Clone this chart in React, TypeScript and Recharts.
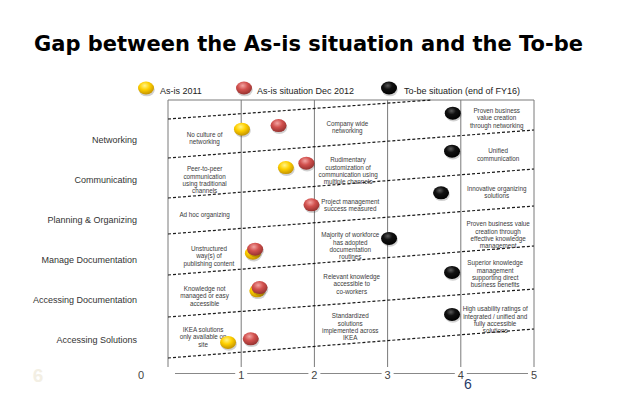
import { ReferenceLine, Scatter, ScatterChart, XAxis, YAxis } from "recharts"

// rows from bottom (0) to top (5)
const rowNames = [
  "Accessing Solutions",
  "Accessing Documentation",
  "Manage Documentation",
  "Planning & Organizing",
  "Communicating",
  "Networking",
]
const rowTicks = [0, 1, 2, 3, 4, 5]
const levelTicks = [0, 1, 2, 3, 4, 5]

// maturity level (x) per row (y)
const asIs2011 = [
  { x: 1.01, y: 5.27 },
  { x: 1.61, y: 4.31 },
  { x: 1.16, y: 2.17 },
  { x: 1.22, y: 1.23 },
  { x: 0.82, y: -0.06 },
]
const asIsDec2012 = [
  { x: 1.51, y: 5.36 },
  { x: 1.89, y: 4.42 },
  { x: 1.96, y: 3.38 },
  { x: 1.19, y: 2.27 },
  { x: 1.25, y: 1.31 },
  { x: 1.13, y: 0.03 },
]
const toBeFY16 = [
  { x: 3.89, y: 5.67 },
  { x: 3.88, y: 4.72 },
  { x: 3.73, y: 3.68 },
  { x: 3.02, y: 2.54 },
  { x: 3.88, y: 1.69 },
  { x: 3.88, y: 0.64 },
]

// slanted row separators
const dividerLeftY = [-0.45, 0.575, 1.625, 2.65, 3.55, 4.55, 5.525]
const dividerRightY = [0.275, 1.275, 2.35, 3.35, 4.275, 5.25, 6]
const dividerEndX = [5, 5, 5, 5, 5, 5, 3.6]
const columnLines = [0, 1, 2, 3, 4, 5]

const notes = [
  { x: 0.5, y: 5.05, lines: ["No culture of", "networking"] },
  { x: 0.5, y: 4.0, lines: ["Peer-to-peer", "communication", "using traditional", "channels"] },
  { x: 0.5, y: 3.125, lines: ["Ad hoc organizing"] },
  { x: 0.56, y: 2.1, lines: ["Unstructured", "way(s) of", "publishing content"] },
  { x: 0.5, y: 1.1, lines: ["Knowledge not", "managed or easy", "accessible"] },
  { x: 0.48, y: 0.075, lines: ["IKEA solutions", "only available on", "site"] },
  { x: 2.45, y: 5.31, lines: ["Company wide", "networking"] },
  { x: 2.46, y: 4.225, lines: ["Rudimentary", "customization of", "communication using", "multiple channels"] },
  { x: 2.49, y: 3.36, lines: ["Project management", "success measured"] },
  { x: 2.49, y: 2.35, lines: ["Majority of workforce", "has adopted", "documentation", "routines"] },
  { x: 2.51, y: 1.4, lines: ["Relevant knowledge", "accessible to", "co-workers"] },
  { x: 2.49, y: 0.325, lines: ["Standardized", "solutions", "implemented across", "IKEA"] },
  { x: 4.49, y: 5.55, lines: ["Proven business", "value creation", "through networking"] },
  { x: 4.51, y: 4.63, lines: ["Unified", "communication"] },
  { x: 4.49, y: 3.7, lines: ["Innovative organizing", "solutions"] },
  { x: 4.51, y: 2.625, lines: ["Proven business value", "creation through", "effective knowledge", "management"] },
  { x: 4.47, y: 1.65, lines: ["Superior knowledge", "management", "supporting direct", "business benefits"] },
  { x: 4.47, y: 0.5, lines: ["High usability ratings of", "integrated / unified and", "fully accessible", "solutions"] },
]

const legendItems = [
  { name: "As-is 2011", grad: "ballYellow" },
  { name: "As-is situation Dec 2012", grad: "ballRed" },
  { name: "To-be situation (end of FY16)", grad: "ballBlack" },
]

const font = "'Liberation Sans', Arial, sans-serif"

const ball = (grad: string) => (props: any) => {
  const { cx, cy } = props
  if (cx == null || cy == null) return <g />
  return (
    <g>
      <ellipse cx={cx + 0.8} cy={cy + 1.8} rx={8} ry={6.5} fill="#000" opacity={0.18} />
      <ellipse cx={cx} cy={cy} rx={8} ry={6.5} fill={`url(#${grad})`} />
    </g>
  )
}

const NoteShape = (props: any) => {
  const { cx, cy, payload } = props
  if (cx == null || !payload) return <g />
  const lines: string[] = payload.lines
  const lh = 7.3
  const start = cy - ((lines.length - 1) * lh) / 2 + 2.2
  return (
    <text textAnchor="middle" fontSize={6.3} fill="#3a3a3a" fontFamily={font}>
      {lines.map((l, i) => (
        <tspan key={i} x={cx} y={start + i * lh}>
          {l}
        </tspan>
      ))}
    </text>
  )
}

const LevelTick = (props: any) => {
  const { x, y, payload } = props
  const first = payload.value === 0
  return (
    <g>
      <rect x={first ? x - 1 : x - 6} y={y - 3} width={first ? 8 : 12} height={6} fill="#fff" />
      <text x={first ? x - 27 : x} y={y + 5.5} textAnchor="middle" fontSize={11} fill="#444" fontFamily={font}>
        {payload.value}
      </text>
    </g>
  )
}

const RowTick = (props: any) => {
  const { x, y, payload } = props
  return (
    <text x={x} y={y + 3} textAnchor="end" fontSize={9} fill="#333" fontFamily={font}>
      {rowNames[payload.value] ?? ""}
    </text>
  )
}

export default function App() {
  return (
    <div style={{ position: "absolute", left: 0, top: 0, width: 638, height: 399, background: "#fff", overflow: "hidden" }}>
      <svg width={0} height={0} style={{ position: "absolute" }}>
        <defs>
          <radialGradient id="ballYellow" cx="42%" cy="32%" r="70%">
            <stop offset="0%" stopColor="#fff48a" />
            <stop offset="45%" stopColor="#ffd000" />
            <stop offset="100%" stopColor="#c08f00" />
          </radialGradient>
          <radialGradient id="ballRed" cx="42%" cy="32%" r="70%">
            <stop offset="0%" stopColor="#f2a5a3" />
            <stop offset="45%" stopColor="#d2514e" />
            <stop offset="100%" stopColor="#93302e" />
          </radialGradient>
          <radialGradient id="ballBlack" cx="42%" cy="32%" r="70%">
            <stop offset="0%" stopColor="#5a5a5a" />
            <stop offset="40%" stopColor="#111" />
            <stop offset="100%" stopColor="#000" />
          </radialGradient>
        </defs>
      </svg>

      <ScatterChart width={638} height={399} margin={{ top: 100, right: 104, bottom: 5.5, left: 0 }} style={{ fontFamily: font }}>
        <XAxis
          type="number"
          dataKey="x"
          domain={[0, 5]}
          ticks={levelTicks}
          interval={0}
          height={20}
          tickSize={0}
          tickMargin={0}
          axisLine={{ stroke: "#888" }}
          tickLine={false}
          tick={<LevelTick />}
        />
        <YAxis
          type="number"
          dataKey="y"
          domain={[-0.8375, 6]}
          ticks={rowTicks}
          interval={0}
          width={168}
          tickSize={0}
          tickMargin={31}
          axisLine={false}
          tickLine={false}
          tick={<RowTick />}
        />
        {columnLines.map((c) => (
          <ReferenceLine key={`c${c}`} segment={[{ x: c, y: -0.675 }, { x: c, y: 6 }]} stroke="#7a7a7a" strokeWidth={1} />
        ))}
        <ReferenceLine segment={[{ x: 0, y: 6 }, { x: 5, y: 6 }]} stroke="#7a7a7a" strokeWidth={1} />
        <Scatter data={notes} shape={<NoteShape />} isAnimationActive={false} />
        {dividerLeftY.map((ly, i) => (
          <ReferenceLine
            key={`d${i}`}
            segment={[
              { x: 0, y: ly },
              { x: dividerEndX[i], y: dividerRightY[i] },
            ]}
            stroke="#1a1a1a"
            strokeWidth={1.2}
            strokeDasharray="3 2"
          />
        ))}
        <Scatter name="As-is 2011" data={asIs2011} shape={ball("ballYellow")} isAnimationActive={false} />
        <Scatter name="As-is situation Dec 2012" data={asIsDec2012} shape={ball("ballRed")} isAnimationActive={false} />
        <Scatter name="To-be situation (end of FY16)" data={toBeFY16} shape={ball("ballBlack")} isAnimationActive={false} />
      </ScatterChart>

      <svg width={638} height={399} style={{ position: "absolute", left: 0, top: 0, pointerEvents: "none" }}>
        <text x={34} y={51} fontFamily="'DejaVu Sans', Verdana, sans-serif" fontWeight="bold" fontSize={21} fill="#000">
          Gap between the As-is situation and the To-be
        </text>
        {legendItems.map((it, i) => {
          const bx = [146, 244, 389][i]
          const tx = [160, 257, 404][i]
          return (
            <g key={it.name}>
              <ellipse cx={bx + 0.8} cy={89.8} rx={8} ry={6.5} fill="#000" opacity={0.18} />
              <ellipse cx={bx} cy={88} rx={8} ry={6.5} fill={`url(#${it.grad})`} />
              <text x={tx} y={94} fontSize={9} fill="#222" fontFamily={font}>
                {it.name}
              </text>
            </g>
          )
        })}
        <text x={38} y={382} textAnchor="middle" fontSize={19} fontWeight="bold" fill="#f3efe4" fontFamily={font}>
          6
        </text>
        <text x={468} y={389} textAnchor="middle" fontSize={14} fill="#1f3a68" fontFamily={font}>
          6
        </text>
      </svg>
    </div>
  )
}
